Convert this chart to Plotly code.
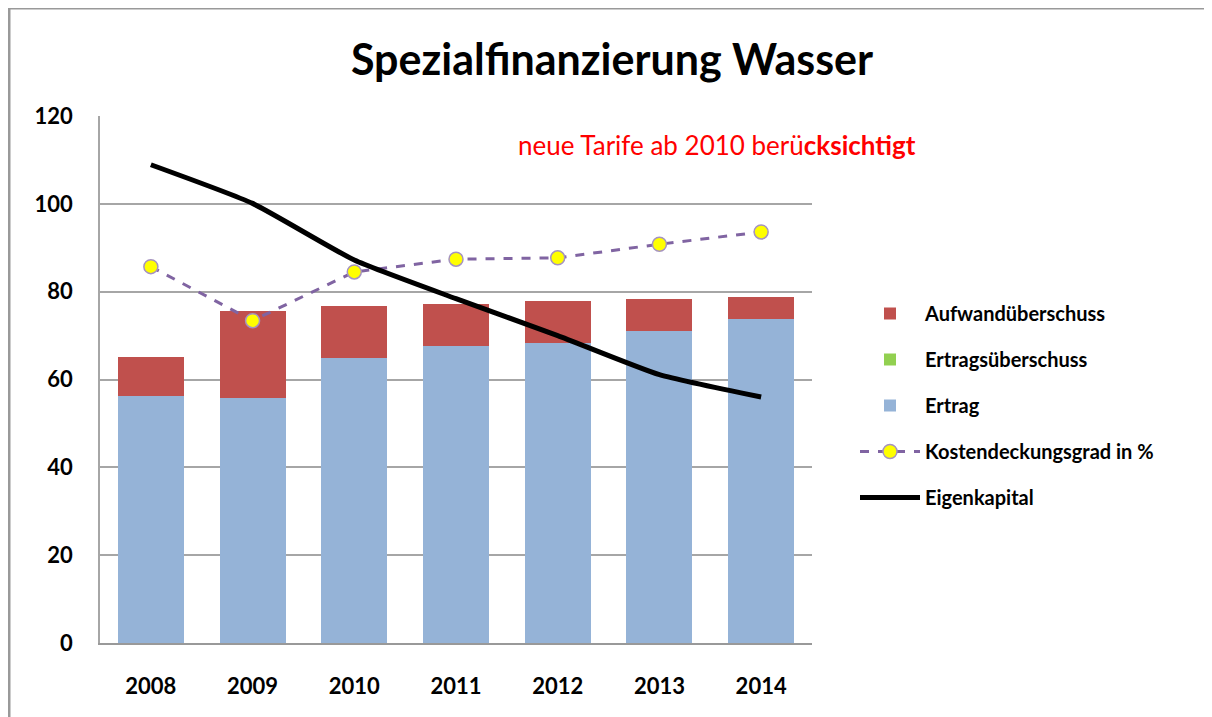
import plotly.graph_objects as go

years = ["2008", "2009", "2010", "2011", "2012", "2013", "2014"]
ertrag = [56.3, 55.8, 64.9, 67.7, 68.2, 71.1, 73.7]
aufwandueberschuss = [8.9, 19.9, 11.8, 9.5, 9.6, 7.2, 5.2]
ertragsueberschuss = [0, 0, 0, 0, 0, 0, 0]
kostendeckungsgrad = [85.7, 73.4, 84.5, 87.4, 87.7, 90.8, 93.6]
eigenkapital = [108.9, 100.1, 87.2, 78.4, 70.0, 61.1, 56.0]

FONT = "Lato, Carlito, 'Open Sans', sans-serif"

fig = go.Figure()
fig.add_trace(go.Bar(x=years, y=ertrag, name="<b>Ertrag</b>", marker_color="#95B3D7",
                     marker_line_width=0, legendrank=3, legendgroup="c"))
fig.add_trace(go.Bar(x=years, y=ertragsueberschuss, name="<b>Ertragsüberschuss</b>", marker_color="#92D050",
                     marker_line_width=0, legendrank=2, legendgroup="b"))
fig.add_trace(go.Bar(x=years, y=aufwandueberschuss, name="<b>Aufwandüberschuss</b>", marker_color="#C0504D",
                     marker_line_width=0, legendrank=1, legendgroup="a"))
fig.add_trace(go.Scatter(x=years, y=kostendeckungsgrad, name="<b>Kostendeckungsgrad in %</b>",
                         mode="lines+markers",
                         line=dict(color="#8064A2", width=3, dash="dash"),
                         marker=dict(symbol="circle", size=14, color="#FFFF00",
                                     line=dict(color="#A593C0", width=1.5)),
                         legendrank=4, legendgroup="d"))
fig.add_trace(go.Scatter(x=years, y=eigenkapital, name="<b>Eigenkapital</b>", mode="lines",
                         line=dict(color="#000000", width=5, shape="spline", smoothing=0.5),
                         legendrank=5, legendgroup="e"))

OFF = 8  # page body margin
W, H = 1212 - OFF, 717 - OFF
L, R, T, B = 100 - OFF, 812 - OFF, 116 - OFF, 643 - OFF
pw, ph = R - L, B - T

def px(x):
    return (x - OFF - L) / pw

def py(y):
    return (B - (y - OFF)) / ph

fig.update_layout(
    width=W, height=H,
    margin=dict(l=L, r=W - R, t=T, b=H - B, pad=0),
    paper_bgcolor="white", plot_bgcolor="white",
    barmode="stack", bargap=0.35,
    font=dict(family=FONT, color="#000000"),
    title=dict(text="<b>Spezialfinanzierung Wasser</b>", x=(612 - OFF) / W, xanchor="center",
               y=1 - (60 - OFF) / H, yanchor="middle",
               font=dict(size=43, family=FONT, color="#000000")),
    showlegend=True,
    legend=dict(x=px(855), xanchor="left", y=py(294), yanchor="top",
                traceorder="grouped", tracegroupgap=17,
                font=dict(size=20, family=FONT, color="#000000"),
                bgcolor="rgba(0,0,0,0)", itemwidth=60),
    xaxis=dict(type="category", showgrid=False, showline=True, linecolor="#999999", linewidth=2,
               ticks="", tickfont=dict(size=22, family=FONT, color="#000000"),
               tickprefix="<b>", ticksuffix="</b>", ticklabelstandoff=23),
    yaxis=dict(range=[0, 120], dtick=20, showgrid=True, gridcolor="#A6A6A6", gridwidth=1.5,
               showline=True, linecolor="#A6A6A6", linewidth=1.5, zeroline=False, ticks="",
               tickfont=dict(size=22, family=FONT, color="#000000"),
               tickprefix="<b>", ticksuffix="</b>", ticklabelstandoff=21),
    annotations=[dict(text="neue Tarife ab 2010 berü<b>cksichtigt</b>", xref="paper", yref="paper",
                      x=px(516), y=py(145), xanchor="left", yanchor="middle", showarrow=False,
                      font=dict(size=26, family=FONT, color="#FF0000"))],
    shapes=[
        dict(type="line", xref="paper", yref="paper", x0=px(9), x1=px(9), y0=py(740), y1=py(8),
             line=dict(color="#999999", width=3)),
        dict(type="line", xref="paper", yref="paper", x0=px(9), x1=px(1230), y0=py(8), y1=py(8),
             line=dict(color="#999999", width=3)),
    ],
)

fig.write_html("out.html")
